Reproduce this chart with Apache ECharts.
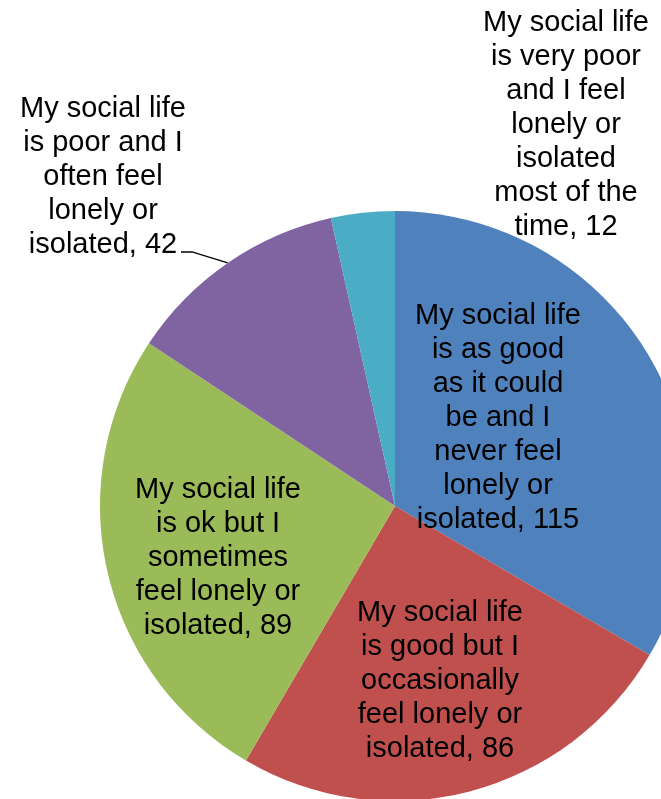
<!DOCTYPE html>
<html>
<head>
<meta charset="utf-8">
<script src="https://cdn.jsdelivr.net/npm/echarts@6/dist/echarts.min.js"></script>
<style>
  html, body { margin: 0; padding: 0; background: #fff; }
  #chart { width: 661px; height: 799px; }
</style>
</head>
<body>
<div id="chart"></div>
<script>
// Survey answers about social life (line breaks follow the printed labels)
const categories = [
  'My social life\nis as good\nas it could\nbe and I\nnever feel\nlonely or\nisolated',
  'My social life\nis good but I\noccasionally\nfeel lonely or\nisolated',
  'My social life\nis ok but I\nsometimes\nfeel lonely or\nisolated',
  'My social life\nis poor and I\noften feel\nlonely or\nisolated',
  'My social life\nis very poor\nand I feel\nlonely or\nisolated\nmost of the\ntime'
];
const counts = [115, 86, 89, 42, 12];
const colors = ['#4F81BD', '#C0504D', '#9BBB59', '#8064A2', '#4BACC6'];

// Where each label block is centred, and which labels sit outside the pie
const labelCenters = [[498, 418], [440, 681], [218, 558], [103, 177], [566, 125]];
const outsideLabel = [false, false, false, true, true];
const showLeader = [false, false, false, true, false];
// Knee and end of the leader line for the "poor" slice
const leaderTail = [[192, 252], [181, 252]];

const chart = echarts.init(document.getElementById('chart'), null, { renderer: 'canvas' });

const data = categories.map((name, i) => ({
  name: name,
  value: counts[i],
  itemStyle: { color: colors[i] },
  label: { position: outsideLabel[i] ? 'outside' : 'inside' },
  labelLine: { show: showLeader[i] }
}));

chart.setOption({
  animation: false,
  backgroundColor: '#ffffff',
  series: [{
    type: 'pie',
    center: [395, 506],
    radius: [0, 295],
    startAngle: 90,
    clockwise: true,
    avoidLabelOverlap: false,
    itemStyle: { borderWidth: 0 },
    label: {
      show: true,
      formatter: '{b}, {c}',
      fontFamily: '"Liberation Sans", Arial, sans-serif',
      fontSize: 29,
      lineHeight: 34,
      color: '#000000',
      align: 'center'
    },
    labelLine: {
      lineStyle: { color: '#000000', width: 1.3 }
    },
    labelLayout: function (params) {
      const i = params.dataIndex;
      const out = {
        x: labelCenters[i][0],
        y: labelCenters[i][1],
        align: 'center',
        verticalAlign: 'middle'
      };
      if (showLeader[i] && params.labelLinePoints) {
        out.labelLinePoints = [params.labelLinePoints[0], leaderTail[0], leaderTail[1]];
      }
      return out;
    },
    data: data
  }]
});
</script>
</body>
</html>
